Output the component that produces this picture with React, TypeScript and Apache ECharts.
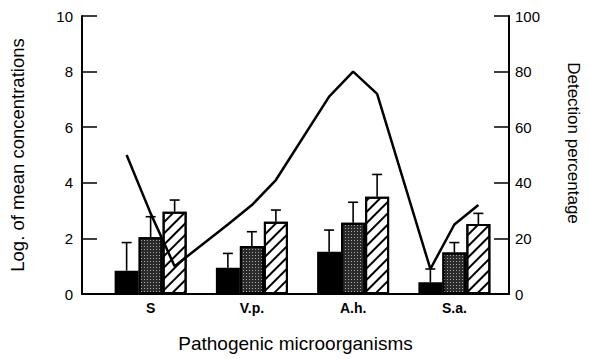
import React, { useEffect, useRef } from "react";
import * as echarts from "echarts";

const categories = ["S", "V.p.", "A.h.", "S.a."];
const blackVals = [0.84, 0.94, 1.52, 0.42];
const blackErr = [1.85, 1.46, 2.3, 0.9];
const stippleVals = [2.04, 1.73, 2.56, 1.49];
const stippleErr = [2.78, 2.24, 3.3, 1.85];
const hatchVals = [2.96, 2.6, 3.5, 2.52];
const hatchErr = [3.38, 3.02, 4.3, 2.9];
const detectionBlack = [50, 25, 71, 9];
const detectionStipple = [29, 32, 80, 25];
const detectionHatch = [10, 41, 72, 32];
const leftTicks = [0, 10, 2];
const rightTicks = [0, 100, 20];

const W = 590;
const H = 359;
const AX_LEFT = 82;
const AX_RIGHT = 519;
const TOP = 16;
const BOTTOM = 65;
const BAR_LEFT = 100;
const BAR_RIGHT = 505;
const BAR_W = 24;
const CAT_W = (BAR_RIGHT - BAR_LEFT) / categories.length;
const FONT = "'Liberation Sans', Arial, sans-serif";

export default function App() {
  const ref = useRef<HTMLDivElement>(null);
  useEffect(() => {
    if (!ref.current) return;
    const chart = echarts.init(ref.current, null, { renderer: "svg" });

    const barSets = [
      { vals: blackVals, err: blackErr, idx: 0 },
      { vals: stippleVals, err: stippleErr, idx: 1 },
      { vals: hatchVals, err: hatchErr, idx: 2 },
    ];
    const detections = [detectionBlack, detectionStipple, detectionHatch];
    const lineData: number[][] = [];
    categories.forEach((_, gi) => {
      detections.forEach((d, bi) => {
        lineData.push([gi + ((bi - 1) * BAR_W) / CAT_W, d[gi]]);
      });
    });

    const errSeries = barSets.map((b) => ({
      type: "custom",
      xAxisIndex: 1,
      yAxisIndex: 2,
      z: 1,
      data: categories.map((_, i) => [i, b.vals[i], b.err[i]]),
      renderItem: (params: any, api: any) => {
        const ci = api.value(0);
        const p0 = api.coord([ci, api.value(1)]);
        const p1 = api.coord([ci, api.value(2)]);
        const x = p0[0] + (b.idx - 1) * BAR_W;
        return {
          type: "group",
          children: [
            { type: "line", shape: { x1: x, y1: p0[1], x2: x, y2: p1[1] }, style: { stroke: "#000", lineWidth: 1.6 } },
            { type: "line", shape: { x1: x - 5, y1: p1[1], x2: x + 5, y2: p1[1] }, style: { stroke: "#000", lineWidth: 1.6 } },
          ],
        };
      },
    }));

    const barStyle = [
      { color: "#000", borderColor: "#000", borderWidth: 2 },
      {
        color: "#2a2a2a",
        borderColor: "#000",
        borderWidth: 2,
        decal: { symbol: "rect", symbolSize: 1, dashArrayX: [1, 2], dashArrayY: [1, 2], color: "#a8a8a8", rotation: 0 },
      },
      {
        color: "#fff",
        borderColor: "#000",
        borderWidth: 2,
        decal: { symbol: "rect", symbolSize: 1, dashArrayX: [1, 0], dashArrayY: [2, 6], color: "#000", rotation: -Math.PI / 4 },
      },
    ];

    const tickLabel = { color: "#000", fontFamily: FONT, fontSize: 15 };

    chart.setOption({
      animation: false,
      backgroundColor: "#fff",
      grid: [
        { left: AX_LEFT, right: W - AX_RIGHT, top: TOP, bottom: BOTTOM },
        { left: BAR_LEFT, right: W - BAR_RIGHT, top: TOP, bottom: BOTTOM },
      ],
      xAxis: [
        {
          gridIndex: 0,
          type: "value",
          min: 0,
          max: 1,
          axisLine: { show: true, lineStyle: { color: "#000", width: 2 } },
          axisTick: { show: false },
          axisLabel: { show: false },
          splitLine: { show: false },
          name: "Pathogenic microorganisms",
          nameLocation: "middle",
          nameGap: 40,
          nameTextStyle: { color: "#000", fontFamily: FONT, fontSize: 19 },
        },
        {
          gridIndex: 1,
          type: "category",
          data: categories,
          axisLine: { show: false },
          axisTick: { show: false },
          axisLabel: { color: "#000", fontFamily: FONT, fontSize: 14, fontWeight: "bold", margin: 7 },
        },
        { gridIndex: 1, type: "value", min: -0.5, max: 3.5, show: false },
      ],
      yAxis: [
        {
          gridIndex: 0,
          type: "value",
          position: "left",
          min: leftTicks[0],
          max: leftTicks[1],
          interval: leftTicks[2],
          axisLine: { show: true, lineStyle: { color: "#000", width: 2 } },
          axisTick: { show: true, inside: true, length: 15, lineStyle: { color: "#000", width: 1.5 } },
          axisLabel: { ...tickLabel, margin: 9 },
          splitLine: { show: false },
          name: "Log. of mean concentrations",
          nameLocation: "middle",
          nameRotate: 90,
          nameGap: 55,
          nameTextStyle: { color: "#000", fontFamily: FONT, fontSize: 18.5 },
        },
        {
          gridIndex: 0,
          type: "value",
          position: "right",
          min: rightTicks[0],
          max: rightTicks[1],
          interval: rightTicks[2],
          axisLine: { show: true, lineStyle: { color: "#000", width: 2 } },
          axisTick: { show: true, inside: true, length: 15, lineStyle: { color: "#000", width: 1.5 } },
          axisLabel: { ...tickLabel, margin: 6 },
          splitLine: { show: false },
          name: "Detection percentage",
          nameLocation: "middle",
          nameRotate: -90,
          nameGap: 56,
          nameTextStyle: { color: "#000", fontFamily: FONT, fontSize: 17, padding: [0, 24, 0, 0] },
        },
        { gridIndex: 1, type: "value", min: leftTicks[0], max: leftTicks[1], show: false },
        { gridIndex: 1, type: "value", min: rightTicks[0], max: rightTicks[1], show: false },
      ],
      series: [
        ...barSets.map((b, i) => ({
          type: "bar",
          xAxisIndex: 1,
          yAxisIndex: 2,
          barWidth: BAR_W,
          barGap: "0%",
          z: 2,
          data: b.vals,
          itemStyle: barStyle[i],
        })),
        ...errSeries,
        {
          type: "line",
          xAxisIndex: 2,
          yAxisIndex: 3,
          data: lineData,
          showSymbol: false,
          symbol: "none",
          z: 5,
          lineStyle: { color: "#000", width: 2.5 },
        },
      ],
    });
    return () => chart.dispose();
  }, []);
  return <div ref={ref} style={{ position: "fixed", left: 0, top: 0, width: W, height: H }} />;
}
